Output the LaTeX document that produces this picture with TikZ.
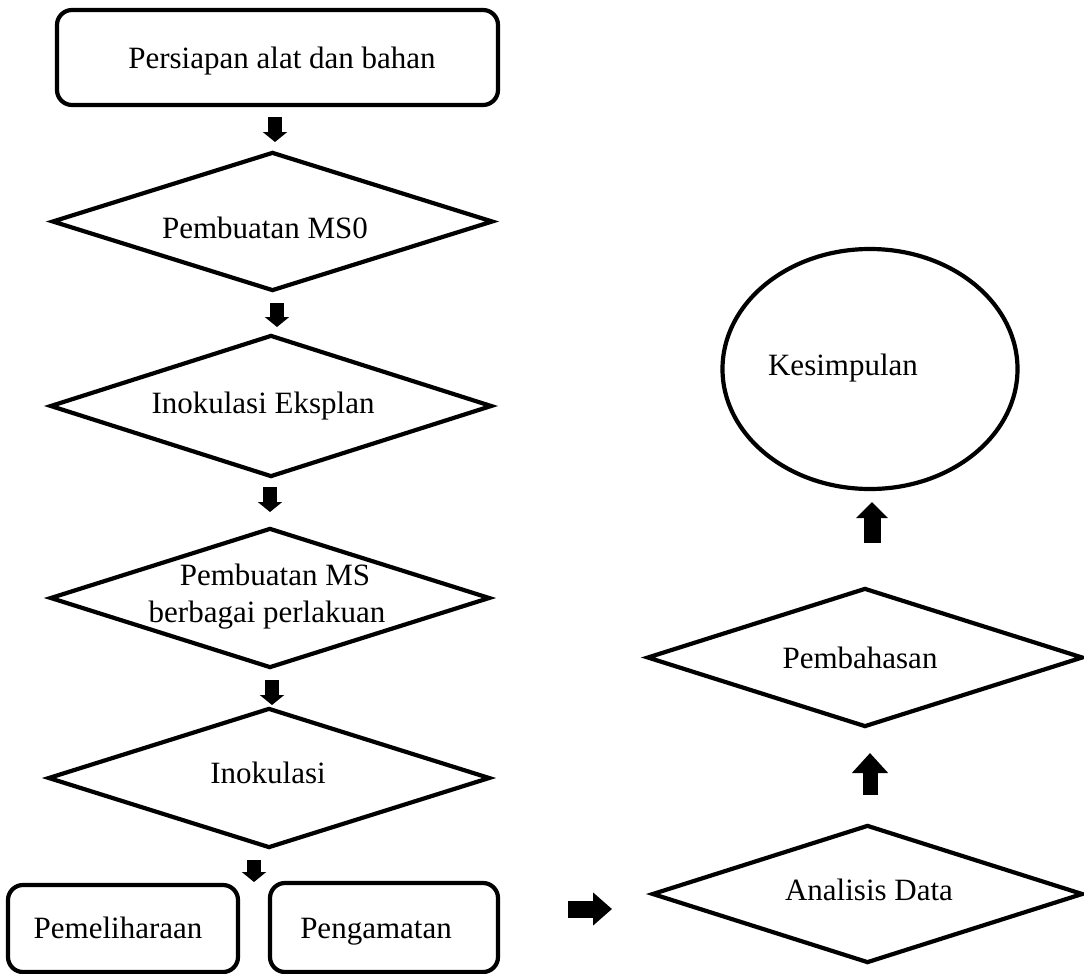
\documentclass[tikz,border=0pt]{standalone}
\usepackage{fontspec}
\setmainfont{Liberation Serif}
\usetikzlibrary{shapes.geometric,arrows.meta}
\begin{document}
\begin{tikzpicture}[x=1pt,y=-1pt,
  every node/.style={font=\fontsize{31}{37}\selectfont},
  rbox/.style={draw,line width=4.2pt,rounded corners=15pt,rectangle,inner sep=0pt},
  dbox/.style={draw,line width=4.2pt,diamond,inner sep=0pt},
  ebox/.style={draw,line width=4.2pt,ellipse,inner sep=0pt},
  lbl/.style={anchor=base,inner sep=0pt},
  downarr/.style={line width=14pt,-{Triangle[length=10pt,width=24pt]}},
  rightarr/.style={line width=17pt,-{Triangle[length=19pt,width=32pt]}},
  uparrA/.style={line width=17pt,-{Triangle[length=16pt,width=31pt]}},
  uparrB/.style={line width=15pt,-{Triangle[length=20pt,width=35pt]}}
]
\useasboundingbox (0,0) rectangle (1084,974);
% shapes
\node[rbox,minimum width=441pt,minimum height=95pt] (b1) at (277.5,57.5) {};
\node[dbox,minimum width=441pt,minimum height=139pt] (d1) at (272.5,221.5) {};
\node[dbox,minimum width=442pt,minimum height=142pt] (d2) at (271,406) {};
\node[dbox,minimum width=440pt,minimum height=140pt] (d3) at (270,598) {};
\node[dbox,minimum width=442pt,minimum height=140pt] (d4) at (269,778) {};
\node[rbox,minimum width=230pt,minimum height=87pt] (b2) at (123,928.5) {};
\node[rbox,minimum width=228pt,minimum height=89pt] (b3) at (384,927.5) {};
\node[dbox,minimum width=431pt,minimum height=138pt] (d5) at (867.5,894) {};
\node[dbox,minimum width=436pt,minimum height=139pt] (d6) at (865,657.5) {};
\node[ebox,minimum width=295pt,minimum height=240pt] (e1) at (870,369) {};
% labels
\node[lbl] (t1) at (282,68) {Persiapan alat dan bahan};
\node[lbl] (t2) at (265,238) {Pembuatan MS0};
\node[lbl] (t3) at (263,413) {Inokulasi Eksplan};
\node[lbl] (t4a) at (275,585) {Pembuatan MS};
\node[lbl] (t4b) at (267,622) {berbagai perlakuan};
\node[lbl] (t5) at (268,783) {Inokulasi};
\node[lbl] (t6) at (118,938) {Pemeliharaan};
\node[lbl] (t7) at (376,938) {Pengamatan};
\node[lbl] (t8) at (869,900) {Analisis Data};
\node[lbl] (t9) at (860,668) {Pembahasan};
\node[lbl] (t10) at (843,375) {Kesimpulan};
% arrow end points
\coordinate (a1s) at (275,117); \coordinate (a1e) at (275,142);
\coordinate (a2s) at (277,303); \coordinate (a2e) at (277,327);
\coordinate (a3s) at (270,487); \coordinate (a3e) at (270,512);
\coordinate (a4s) at (272,680); \coordinate (a4e) at (272,705);
\coordinate (a5s) at (254,860); \coordinate (a5e) at (254,882);
\coordinate (a6s) at (568,909); \coordinate (a6e) at (612,909);
\coordinate (a7s) at (870,795); \coordinate (a7e) at (870,753);
\coordinate (a8s) at (872,543); \coordinate (a8e) at (872,502);
\draw[downarr] (a1s) -- (a1e);
\draw[downarr] (a2s) -- (a2e);
\draw[downarr] (a3s) -- (a3e);
\draw[downarr] (a4s) -- (a4e);
\draw[downarr] (a5s) -- (a5e);
\draw[rightarr] (a6s) -- (a6e);
\draw[uparrB] (a7s) -- (a7e);
\draw[uparrA] (a8s) -- (a8e);
\end{tikzpicture}
\end{document}
